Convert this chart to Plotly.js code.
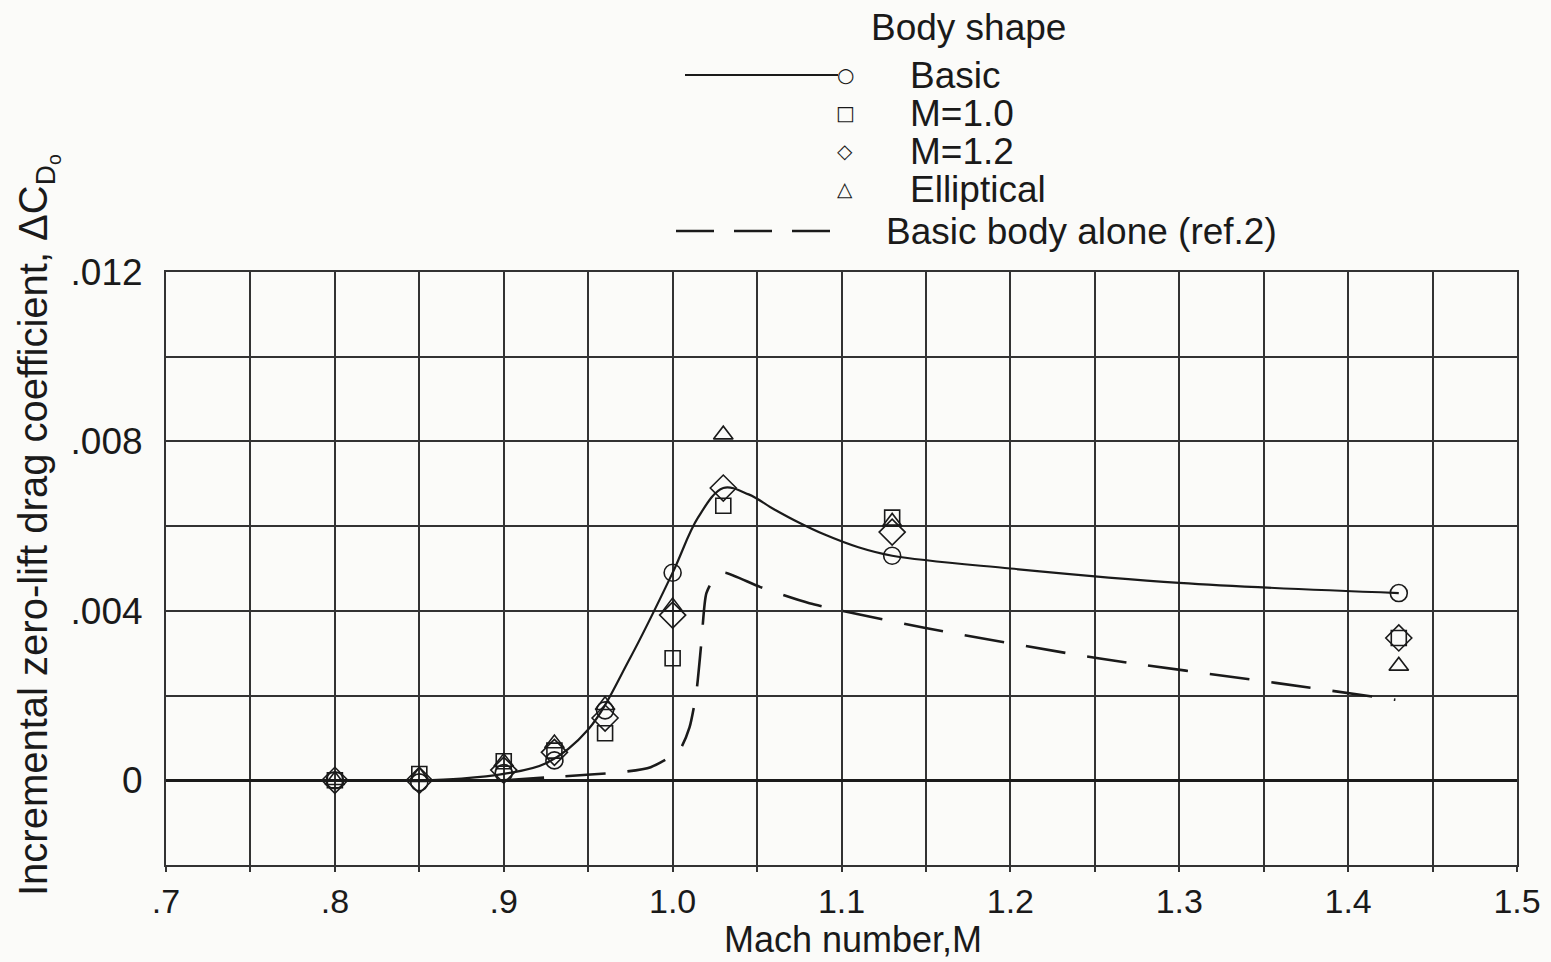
<!DOCTYPE html>
<html>
<head>
<meta charset="utf-8">
<script src="https://cdn.plot.ly/plotly-3.0.1.min.js"></script>
<style>
  html, body { margin: 0; padding: 0; background: #fbfbf9; }
  #chart { width: 1551px; height: 962px; }
</style>
</head>
<body>
<div id="chart"></div>
<script>
// Measured points (Mach number)
const machPts = [0.80, 0.85, 0.90, 0.93, 0.96, 1.00, 1.03, 1.13, 1.43];
const basicMach = [0.80, 0.85, 0.90, 0.93, 0.96, 1.00, 1.13, 1.43];
const basicVals = [0.0, -0.00005, 0.00017, 0.00047, 0.00165, 0.0049, 0.0053, 0.00442];
const m10Vals = [0.0, 0.00015, 0.00045, 0.0007, 0.00111, 0.00288, 0.00648, 0.0062, 0.00336];
const m12Vals = [0.0, 0.0, 0.00024, 0.00066, 0.00147, 0.0039, 0.0069, 0.00586, 0.00336];
const ellVals = [0.0, 0.0001, 0.00043, 0.00087, 0.00177, 0.0041, 0.00816, 0.0061, 0.0027];

// Faired curve through basic configuration
const fairMach = [0.70, 0.80, 0.85, 0.875, 0.90, 0.925, 0.95, 0.975, 1.00, 1.015, 1.03, 1.045, 1.06, 1.075, 1.09, 1.11, 1.13, 1.20, 1.30, 1.43];
const fairVals = [0.0, 0.0, 0.0, 0.00004, 0.00015, 0.0004, 0.0012, 0.0029, 0.0049, 0.0062, 0.0069, 0.00675, 0.0064, 0.00608, 0.0058, 0.0055, 0.0053, 0.0050, 0.00466, 0.00442];

// Basic body alone (ref. 2), dashed curve
const bodyMach = [0.90, 0.93, 0.969, 0.987, 1.004, 1.010, 1.014, 1.017, 1.020, 1.026, 1.031, 1.052, 1.081, 1.149, 1.252, 1.357, 1.428];
const bodyVals = [0.0, 0.00008, 0.00019, 0.00031, 0.00071, 0.00125, 0.00206, 0.00324, 0.00442, 0.00485, 0.0049, 0.00456, 0.00418, 0.0036, 0.00288, 0.0023, 0.0019];

// Axis ticks (grid at every tick; labels only on the main ones)
const xTickVals = [0.7, 0.75, 0.8, 0.85, 0.9, 0.95, 1.0, 1.05, 1.1, 1.15, 1.2, 1.25, 1.3, 1.35, 1.4, 1.45, 1.5];
const xTickText = ['.7', '', '.8', '', '.9', '', '1.0', '', '1.1', '', '1.2', '', '1.3', '', '1.4', '', '1.5'];
const yTickVals = [-0.002, 0, 0.002, 0.004, 0.006, 0.008, 0.010, 0.012];
const yTickText = ['', '0', '', '.004', '', '.008', '', '.012'];

// Legend entries
const legendTitle = 'Body shape';
const legendLabels = ['Basic', 'M=1.0', 'M=1.2', 'Elliptical', 'Basic body alone (ref.2)'];
const legendGlyphs = ['○', '□', '◇', '△', ''];

const FONT = 'Liberation Sans, Arial, sans-serif';
const INK = '#1a1a1a';
const FS = 37;

const mk = (sym, size) => ({ symbol: sym, size: size, color: INK, line: { color: INK, width: 1.6 } });

const traces = [
  { x: fairMach, y: fairVals, mode: 'lines', name: 'Basic fairing', line: { color: INK, width: 2.2, shape: 'spline', smoothing: 1 }, hoverinfo: 'skip' },
  { x: bodyMach, y: bodyVals, mode: 'lines', name: legendLabels[4], line: { color: INK, width: 2.6, dash: '40px,22px', shape: 'spline', smoothing: 0.6 } },
  { x: basicMach, y: basicVals, mode: 'markers', name: legendLabels[0], marker: mk('circle-open', 17) },
  { x: machPts, y: m10Vals, mode: 'markers', name: legendLabels[1], marker: mk('square-open', 15) },
  { x: machPts, y: m12Vals, mode: 'markers', name: legendLabels[2], marker: mk('diamond-open', 20) },
  { x: machPts, y: ellVals, mode: 'markers', name: legendLabels[3], marker: mk('triangle-up-open', 17) }
];

// Legend layout (pixel rows converted to paper coordinates)
const L = 166, T = 272, PW = 1351, PH = 593;
const px = v => (v - L) / PW;
const py = v => (T + PH - v) / PH;
const rowY = [75, 113, 151, 189, 231];
const glyphX = 845, textX = 908, dashTextX = 884;

const annotations = [];
const shapes = [];
annotations.push({ xref: 'paper', yref: 'paper', x: px(968), y: py(28), text: legendTitle, showarrow: false, xanchor: 'center', yanchor: 'middle', font: { family: FONT, size: FS, color: INK } });
for (let i = 0; i < legendLabels.length; i++) {
  const isDash = i === 4;
  annotations.push({ xref: 'paper', yref: 'paper', x: px(isDash ? dashTextX : textX), y: py(rowY[i]), text: legendLabels[i], showarrow: false, xanchor: 'left', yanchor: 'middle', font: { family: FONT, size: FS, color: INK } });
  if (legendGlyphs[i]) {
    annotations.push({ xref: 'paper', yref: 'paper', x: px(glyphX), y: py(rowY[i]), text: legendGlyphs[i], showarrow: false, xanchor: 'center', yanchor: 'middle', font: { family: 'DejaVu Sans, sans-serif', size: 20, color: INK } });
  }
}
shapes.push({ type: 'line', xref: 'paper', yref: 'paper', x0: px(685), x1: px(838), y0: py(rowY[0]), y1: py(rowY[0]), line: { color: INK, width: 2 } });
shapes.push({ type: 'line', xref: 'paper', yref: 'paper', x0: px(676), x1: px(846), y0: py(rowY[4]), y1: py(rowY[4]), line: { color: INK, width: 2.4, dash: '38px,20px' } });

// Axis titles as annotations to match their placement
annotations.push({ xref: 'paper', yref: 'paper', x: px(38), y: py(525), text: 'Incremental zero-lift drag coefficient, ΔC<sub>D<sub>o</sub></sub>', textangle: -90, showarrow: false, xanchor: 'center', yanchor: 'middle', font: { family: FONT, size: 40, color: INK } });
annotations.push({ xref: 'paper', yref: 'paper', x: px(853), y: py(962), text: 'Mach number,M', showarrow: false, xanchor: 'center', yanchor: 'bottom', font: { family: FONT, size: 36, color: INK } });

const gridCol = '#333333';
const layout = {
  width: 1551, height: 962,
  paper_bgcolor: '#fbfbf9', plot_bgcolor: '#fbfbf9',
  margin: { l: L, r: 34, t: T, b: 97 },
  font: { family: FONT, size: FS, color: INK },
  showlegend: false,
  annotations: annotations,
  shapes: shapes,
  xaxis: {
    range: [0.7, 1.5], tickmode: 'array', tickvals: xTickVals, ticktext: xTickText,
    showgrid: true, gridcolor: gridCol, gridwidth: 2,
    ticks: 'outside', ticklen: 5, tickcolor: gridCol, tickwidth: 2,
    ticklabelstandoff: 0,
    showline: true, linecolor: gridCol, linewidth: 2, mirror: true,
    zeroline: false,
    tickfont: { family: FONT, size: 34, color: INK }
  },
  yaxis: {
    range: [-0.002, 0.012], tickmode: 'array', tickvals: yTickVals, ticktext: yTickText,
    showgrid: true, gridcolor: gridCol, gridwidth: 2,
    ticks: '',
    showline: true, linecolor: gridCol, linewidth: 2, mirror: true,
    zeroline: true, zerolinecolor: INK, zerolinewidth: 3.5,
    ticklabelstandoff: 14,
    tickfont: { family: FONT, size: FS, color: INK }
  }
};

Plotly.newPlot('chart', traces, layout, { staticPlot: true, displayModeBar: false });
</script>
</body>
</html>
